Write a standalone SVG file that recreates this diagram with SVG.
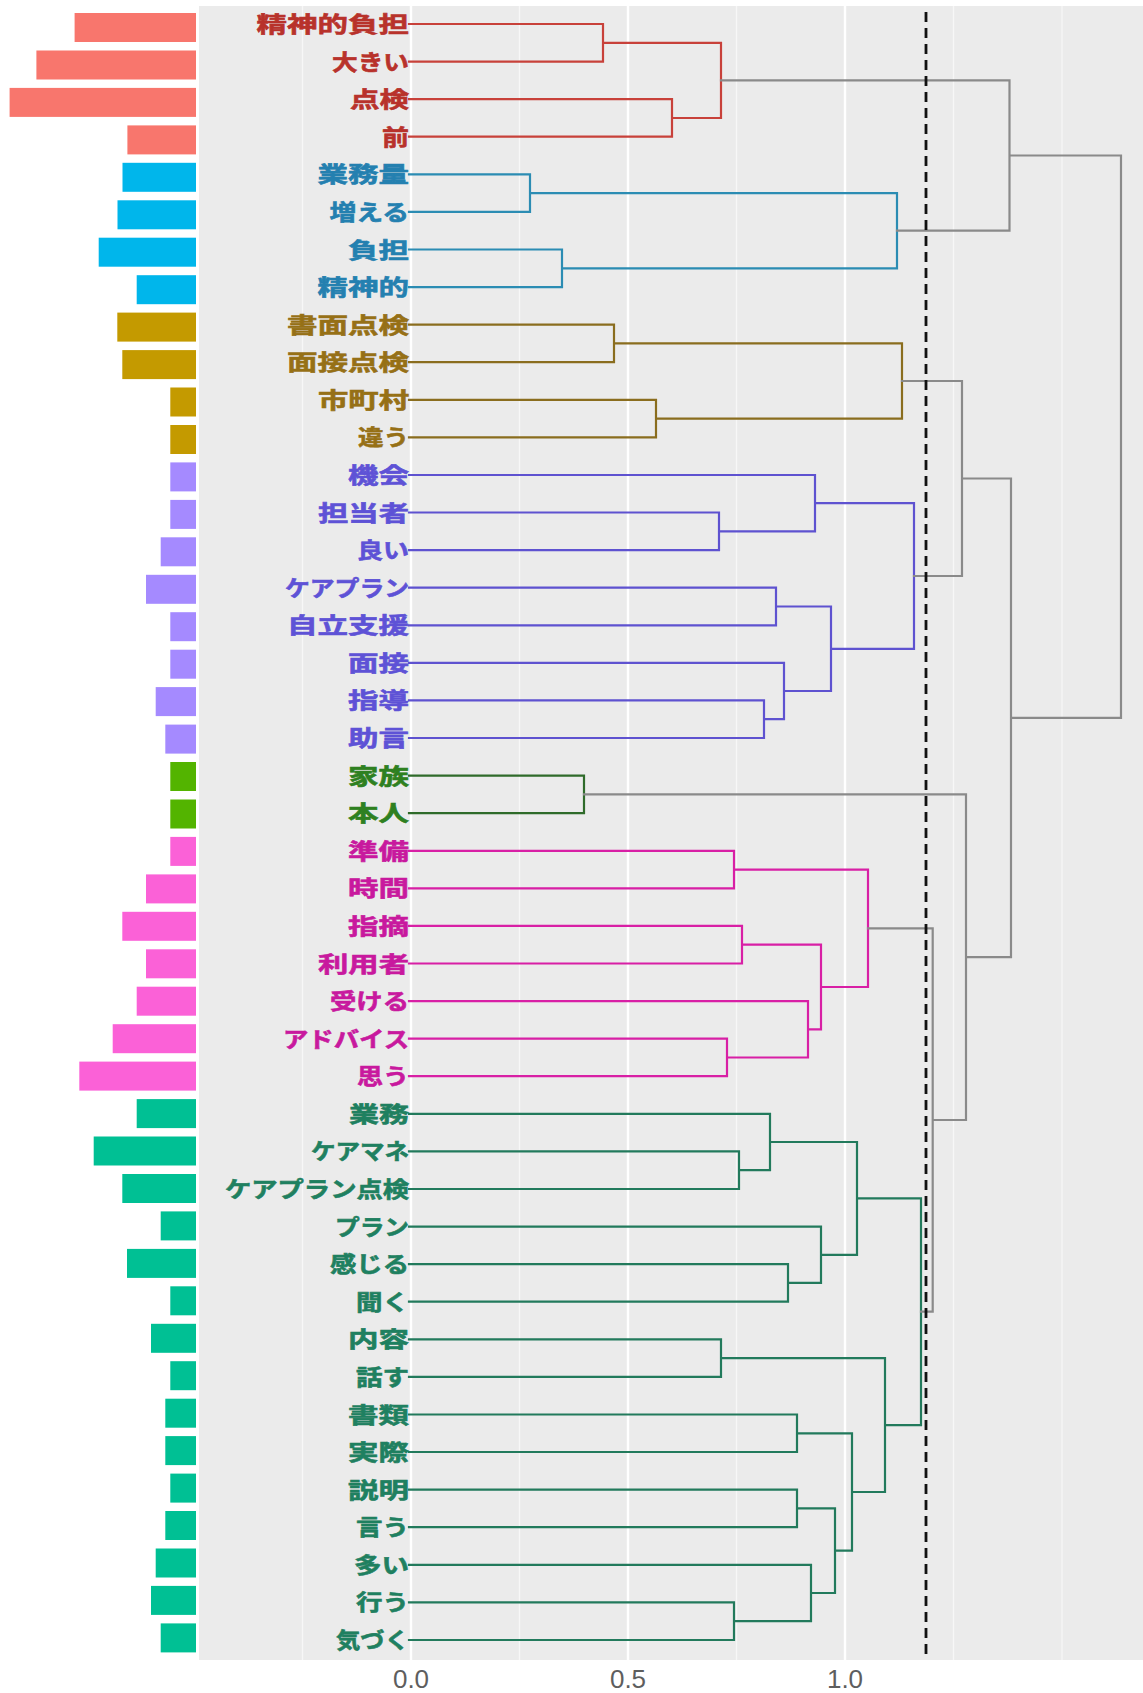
<svg xmlns="http://www.w3.org/2000/svg" width="1143" height="1693" viewBox="0 0 1143 1693">
<style>
.lbl{font-family:"Noto Sans CJK JP","Noto Sans",sans-serif;font-weight:bold;font-size:22px;stroke-width:0.6}
.ax{font-family:"Liberation Sans",Arial,sans-serif;font-size:26px;fill:#5e5e5e;text-anchor:middle}
.br{fill:none;stroke-width:2.2;stroke-linejoin:miter;stroke-linecap:square}
.gmaj{stroke:#ffffff;stroke-width:2.4}
.gmin{stroke:#f7f7f7;stroke-width:1.2}
.c1{fill:#B8322B;stroke:#B8322B}.c2{fill:#2480B0;stroke:#2480B0}.c3{fill:#967016;stroke:#967016}.c4{fill:#5E52D6;stroke:#5E52D6}.c5{fill:#2E8020;stroke:#2E8020}.c6{fill:#C8199E;stroke:#C8199E}.c7{fill:#1F8060;stroke:#1F8060}
.b1{fill:#F8766D}.b2{fill:#00B6EB}.b3{fill:#C49A00}.b4{fill:#A58AFF}.b5{fill:#53B400}.b6{fill:#FB61D7}.b7{fill:#00C094}
</style>
<rect x="0" y="0" width="1143" height="1693" fill="#ffffff"/>
<g id="panel">
<rect x="199" y="6" width="944" height="1654" fill="#EBEBEB"/>
<line class="gmin" x1="302.5" y1="6" x2="302.5" y2="1660"/>
<line class="gmin" x1="519.5" y1="6" x2="519.5" y2="1660"/>
<line class="gmin" x1="736.5" y1="6" x2="736.5" y2="1660"/>
<line class="gmin" x1="953.5" y1="6" x2="953.5" y2="1660"/>
<line class="gmin" x1="1062" y1="6" x2="1062" y2="1660"/>
<line class="gmaj" x1="411" y1="6" x2="411" y2="1660"/>
<line class="gmaj" x1="628" y1="6" x2="628" y2="1660"/>
<line class="gmaj" x1="845" y1="6" x2="845" y2="1660"/>
</g>
<g id="axis">
<text class="ax" x="411" y="1688">0.0</text>
<text class="ax" x="628" y="1688">0.5</text>
<text class="ax" x="845" y="1688">1.0</text>
</g>
<g id="connectors">
<path class="br" stroke="#C8413A" d="M409,24H603V61.6H409 M409,99.2H672V136.7H409 M603,42.8H721V118H672"/>
<path class="br" stroke="#2B8CB3" d="M409,174.3H530V211.9H409 M409,249.5H562V287.1H409 M530,193.1H897V268.3H562"/>
<path class="br" stroke="#8A6D1E" d="M409,324.6H614V362.2H409 M409,399.8H656V437.4H409 M614,343.4H902V418.6H656"/>
<path class="br" stroke="#5E52D0" d="M409,512.5H719V550.1H409 M409,475H815V531.3H719 M409,587.7H776V625.3H409 M409,700.4H764V738H409 M409,662.9H784V719.2H764 M776,606.5H831V691H784 M815,503.2H914V648.8H831"/>
<path class="br" stroke="#2F6B2A" d="M409,775.6H584V813.2H409"/>
<path class="br" stroke="#D81FA5" d="M409,850.8H734V888.3H409 M409,925.9H742V963.5H409 M409,1038.7H727V1076.2H409 M409,1001.1H808V1057.5H727 M742,944.7H821V1029.3H808 M734,869.6H868V987H821"/>
<path class="br" stroke="#227A5C" d="M409,1151.4H739V1189H409 M409,1113.8H770V1170.2H739 M409,1264.1H788V1301.7H409 M409,1226.6H821V1282.9H788 M770,1142H857V1254.8H821 M409,1339.3H721V1376.9H409 M409,1414.5H797V1452H409 M409,1489.6H797V1527.2H409 M409,1602.4H734V1640H409 M409,1564.8H811V1621.2H734 M797,1508.4H835V1593H811 M797,1433.3H852V1550.7H835 M721,1358.1H885V1492H852 M857,1198.4H921V1425.1H885"/>
<path class="br" stroke="#8A8A8A" d="M721,80.4H1009.5V230.7H897 M1009.5,155.5H1121V717.9H1011 M902,381H962V576H914 M962,478.5H1011V957.2H966 M584,794.4H966V1120H932.7 M868,928.3H932.7V1311.7H921"/>
<line x1="926" y1="12" x2="926" y2="1658" stroke="#111111" stroke-width="2.8" stroke-dasharray="10 6"/>
</g>
<g id="n0"><rect class="b1" x="74.6" y="13" width="121.4" height="29"/><text class="lbl c1" x="256.5" y="32" textLength="152.5" lengthAdjust="spacingAndGlyphs">精神的負担</text></g>
<g id="n1"><rect class="b1" x="36.4" y="50.5" width="159.6" height="29"/><text class="lbl c1" x="332" y="69.6" textLength="77" lengthAdjust="spacingAndGlyphs">大きい</text></g>
<g id="n2"><rect class="b1" x="9.6" y="87.9" width="186.4" height="29"/><text class="lbl c1" x="350" y="107.2" textLength="59" lengthAdjust="spacingAndGlyphs">点検</text></g>
<g id="n3"><rect class="b1" x="127.4" y="125.4" width="68.6" height="29"/><text class="lbl c1" x="382" y="144.7" textLength="27" lengthAdjust="spacingAndGlyphs">前</text></g>
<g id="n4"><rect class="b2" x="122.5" y="162.8" width="73.5" height="29"/><text class="lbl c2" x="317.5" y="182.3" textLength="91.5" lengthAdjust="spacingAndGlyphs">業務量</text></g>
<g id="n5"><rect class="b2" x="117.5" y="200.3" width="78.5" height="29"/><text class="lbl c2" x="329.5" y="219.9" textLength="79.5" lengthAdjust="spacingAndGlyphs">増える</text></g>
<g id="n6"><rect class="b2" x="98.7" y="237.7" width="97.3" height="29"/><text class="lbl c2" x="348" y="257.5" textLength="61" lengthAdjust="spacingAndGlyphs">負担</text></g>
<g id="n7"><rect class="b2" x="136.7" y="275.2" width="59.3" height="29"/><text class="lbl c2" x="317.5" y="295.1" textLength="91.5" lengthAdjust="spacingAndGlyphs">精神的</text></g>
<g id="n8"><rect class="b3" x="117.3" y="312.6" width="78.7" height="29"/><text class="lbl c3" x="287" y="332.6" textLength="122" lengthAdjust="spacingAndGlyphs">書面点検</text></g>
<g id="n9"><rect class="b3" x="122.3" y="350.1" width="73.7" height="29"/><text class="lbl c3" x="287" y="370.2" textLength="122" lengthAdjust="spacingAndGlyphs">面接点検</text></g>
<g id="n10"><rect class="b3" x="170.3" y="387.5" width="25.7" height="29"/><text class="lbl c3" x="318" y="407.8" textLength="91" lengthAdjust="spacingAndGlyphs">市町村</text></g>
<g id="n11"><rect class="b3" x="170.3" y="425" width="25.7" height="29"/><text class="lbl c3" x="358" y="445.4" textLength="51" lengthAdjust="spacingAndGlyphs">違う</text></g>
<g id="n12"><rect class="b4" x="170.3" y="462.4" width="25.7" height="29"/><text class="lbl c4" x="348" y="483" textLength="61" lengthAdjust="spacingAndGlyphs">機会</text></g>
<g id="n13"><rect class="b4" x="170.3" y="499.9" width="25.7" height="29"/><text class="lbl c4" x="318" y="520.5" textLength="91" lengthAdjust="spacingAndGlyphs">担当者</text></g>
<g id="n14"><rect class="b4" x="160.7" y="537.3" width="35.3" height="29"/><text class="lbl c4" x="357" y="558.1" textLength="52" lengthAdjust="spacingAndGlyphs">良い</text></g>
<g id="n15"><rect class="b4" x="146" y="574.8" width="50" height="29"/><text class="lbl c4" x="285" y="595.7" textLength="124" lengthAdjust="spacingAndGlyphs">ケアプラン</text></g>
<g id="n16"><rect class="b4" x="170.3" y="612.2" width="25.7" height="29"/><text class="lbl c4" x="287" y="633.3" textLength="122" lengthAdjust="spacingAndGlyphs">自立支援</text></g>
<g id="n17"><rect class="b4" x="170.3" y="649.7" width="25.7" height="29"/><text class="lbl c4" x="348" y="670.9" textLength="61" lengthAdjust="spacingAndGlyphs">面接</text></g>
<g id="n18"><rect class="b4" x="155.7" y="687.1" width="40.3" height="29"/><text class="lbl c4" x="348" y="708.4" textLength="61" lengthAdjust="spacingAndGlyphs">指導</text></g>
<g id="n19"><rect class="b4" x="165.3" y="724.6" width="30.7" height="29"/><text class="lbl c4" x="348" y="746" textLength="61" lengthAdjust="spacingAndGlyphs">助言</text></g>
<g id="n20"><rect class="b5" x="170.3" y="762" width="25.7" height="29"/><text class="lbl c5" x="348" y="783.6" textLength="61" lengthAdjust="spacingAndGlyphs">家族</text></g>
<g id="n21"><rect class="b5" x="170.3" y="799.5" width="25.7" height="29"/><text class="lbl c5" x="348" y="821.2" textLength="61" lengthAdjust="spacingAndGlyphs">本人</text></g>
<g id="n22"><rect class="b6" x="170.3" y="836.9" width="25.7" height="29"/><text class="lbl c6" x="348" y="858.8" textLength="61" lengthAdjust="spacingAndGlyphs">準備</text></g>
<g id="n23"><rect class="b6" x="146" y="874.4" width="50" height="29"/><text class="lbl c6" x="348" y="896.3" textLength="61" lengthAdjust="spacingAndGlyphs">時間</text></g>
<g id="n24"><rect class="b6" x="122.3" y="911.8" width="73.7" height="29"/><text class="lbl c6" x="348" y="933.9" textLength="61" lengthAdjust="spacingAndGlyphs">指摘</text></g>
<g id="n25"><rect class="b6" x="146" y="949.3" width="50" height="29"/><text class="lbl c6" x="318" y="971.5" textLength="91" lengthAdjust="spacingAndGlyphs">利用者</text></g>
<g id="n26"><rect class="b6" x="136.7" y="986.7" width="59.3" height="29"/><text class="lbl c6" x="330" y="1009.1" textLength="79" lengthAdjust="spacingAndGlyphs">受ける</text></g>
<g id="n27"><rect class="b6" x="112.7" y="1024.2" width="83.3" height="29"/><text class="lbl c6" x="283" y="1046.7" textLength="126" lengthAdjust="spacingAndGlyphs">アドバイス</text></g>
<g id="n28"><rect class="b6" x="79.3" y="1061.6" width="116.7" height="29"/><text class="lbl c6" x="357" y="1084.2" textLength="52" lengthAdjust="spacingAndGlyphs">思う</text></g>
<g id="n29"><rect class="b7" x="136.7" y="1099.1" width="59.3" height="29"/><text class="lbl c7" x="349" y="1121.8" textLength="60" lengthAdjust="spacingAndGlyphs">業務</text></g>
<g id="n30"><rect class="b7" x="93.7" y="1136.5" width="102.3" height="29"/><text class="lbl c7" x="311" y="1159.4" textLength="98" lengthAdjust="spacingAndGlyphs">ケアマネ</text></g>
<g id="n31"><rect class="b7" x="122.3" y="1174" width="73.7" height="29"/><text class="lbl c7" x="225" y="1197" textLength="184" lengthAdjust="spacingAndGlyphs">ケアプラン点検</text></g>
<g id="n32"><rect class="b7" x="160.7" y="1211.4" width="35.3" height="29"/><text class="lbl c7" x="335" y="1234.6" textLength="74" lengthAdjust="spacingAndGlyphs">プラン</text></g>
<g id="n33"><rect class="b7" x="127" y="1248.9" width="69" height="29"/><text class="lbl c7" x="330" y="1272.1" textLength="79" lengthAdjust="spacingAndGlyphs">感じる</text></g>
<g id="n34"><rect class="b7" x="170.3" y="1286.3" width="25.7" height="29"/><text class="lbl c7" x="356" y="1309.7" textLength="53" lengthAdjust="spacingAndGlyphs">聞く</text></g>
<g id="n35"><rect class="b7" x="151" y="1323.8" width="45" height="29"/><text class="lbl c7" x="348" y="1347.3" textLength="61" lengthAdjust="spacingAndGlyphs">内容</text></g>
<g id="n36"><rect class="b7" x="170.3" y="1361.2" width="25.7" height="29"/><text class="lbl c7" x="356" y="1384.9" textLength="53" lengthAdjust="spacingAndGlyphs">話す</text></g>
<g id="n37"><rect class="b7" x="165.3" y="1398.7" width="30.7" height="29"/><text class="lbl c7" x="348" y="1422.5" textLength="61" lengthAdjust="spacingAndGlyphs">書類</text></g>
<g id="n38"><rect class="b7" x="165.3" y="1436.1" width="30.7" height="29"/><text class="lbl c7" x="348" y="1460" textLength="61" lengthAdjust="spacingAndGlyphs">実際</text></g>
<g id="n39"><rect class="b7" x="170.3" y="1473.6" width="25.7" height="29"/><text class="lbl c7" x="348" y="1497.6" textLength="61" lengthAdjust="spacingAndGlyphs">説明</text></g>
<g id="n40"><rect class="b7" x="165.3" y="1511" width="30.7" height="29"/><text class="lbl c7" x="356" y="1535.2" textLength="53" lengthAdjust="spacingAndGlyphs">言う</text></g>
<g id="n41"><rect class="b7" x="155.7" y="1548.5" width="40.3" height="29"/><text class="lbl c7" x="354" y="1572.8" textLength="55" lengthAdjust="spacingAndGlyphs">多い</text></g>
<g id="n42"><rect class="b7" x="151" y="1585.9" width="45" height="29"/><text class="lbl c7" x="356" y="1610.4" textLength="53" lengthAdjust="spacingAndGlyphs">行う</text></g>
<g id="n43"><rect class="b7" x="160.7" y="1623.4" width="35.3" height="29"/><text class="lbl c7" x="336" y="1648" textLength="73" lengthAdjust="spacingAndGlyphs">気づく</text></g>
</svg>
